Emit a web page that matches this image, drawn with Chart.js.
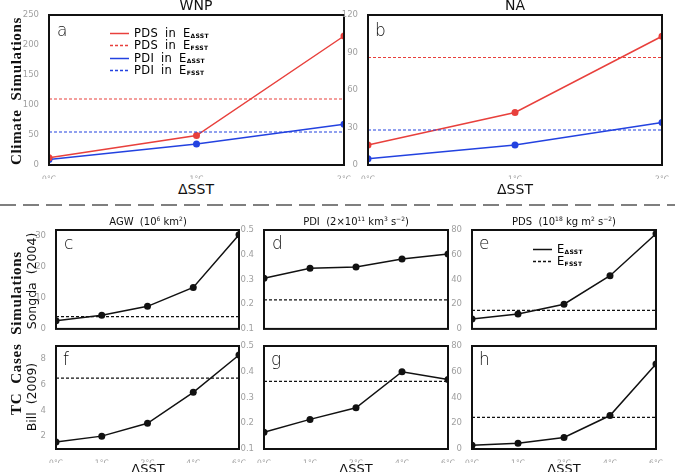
<!DOCTYPE html>
<html>
<head>
<meta charset="utf-8">
<script src="https://cdn.jsdelivr.net/npm/chart.js@4"></script>
<style>
  body { margin: 0; background: #fff; }
  #fig { position: relative; width: 675px; height: 472px; overflow: hidden; font-family: "DejaVu Sans", sans-serif; }
  canvas { position: absolute; }
  .lbl { position: absolute; white-space: nowrap; color: #111; }
  .ctr { transform: translate(-50%, -50%); }
  .rot { transform: translate(-50%, -50%) rotate(-90deg); }
  .serif { font-family: "Liberation Serif", serif; font-weight: bold; letter-spacing: 0.7px; }
  .letter { position: absolute; font-size: 17px; color: #111; font-weight: 300; }
  .leg { position: absolute; font-size: 11.5px; line-height: 12px; }
  .leg div { position: relative; height: 12.3px; white-space: nowrap; }
  .leg svg { position: absolute; left: 0; top: 5px; }
  .leg span.tx { position: absolute; left: 24px; top: 0; word-spacing: 3px; letter-spacing: 0.3px; }
  sub { font-size: 6px; font-weight: bold; vertical-align: -1px; }
  sup { font-size: 6px; vertical-align: 4px; }
</style>
</head>
<body>
<div id="fig">
  <svg style="position:absolute;left:0;top:0" width="675" height="472">
    <line x1="0" y1="205" x2="675" y2="205" stroke="#555" stroke-width="1.5" stroke-dasharray="16,7"/>
  </svg>
</div>
<script>
// ======================
// Data
// ======================
const topCats = ['0°C', '1°C', '2°C'];
const wnpPdsDsst = [12, 49, 215];
const wnpPdsFsst = 110;
const wnpPdiDsst = [9, 35, 68];
const wnpPdiFsst = 55;
const naPdsDsst = [16, 42, 103];
const naPdsFsst = 86;
const naPdiDsst = [5, 16, 34];
const naPdiFsst = 28;

const tcCats = ['0°C', '1°C', '2°C', '4°C', '6°C'];
const songdaAgw = [2.6, 4.4, 7.3, 13.4, 30.5];
const songdaAgwFsst = 4.0;
const songdaPdi = [0.305, 0.345, 0.35, 0.383, 0.403];
const songdaPdiFsst = 0.217;
const songdaPds = [8, 12, 20, 43, 77];
const songdaPdsFsst = 15;
const billAgw = [1.55, 2.0, 3.0, 5.4, 8.3];
const billAgwFsst = 6.5;
const billPdi = [0.165, 0.215, 0.26, 0.40, 0.37];
const billPdiFsst = 0.363;
const billPds = [3, 4.5, 9, 26, 66];
const billPdsFsst = 24.5;

// tick labels
const wnpTicks = [0, 50, 100, 150, 200, 250];
const naTicks = [0, 30, 60, 90, 120];
const songdaAgwTicks = [0, 10, 20, 30];
const billAgwTicks = [2, 4, 6, 8];
const pdiTicks = [0.1, 0.2, 0.3, 0.4, 0.5];
const pdsTicks = [0, 20, 40, 60, 80];

const RED = '#e8403c';
const BLUE = '#2342e0';
const fig = document.getElementById('fig');

// flat line for the E_FSST runs
function flat(v, n) {
    return new Array(n).fill(v);
}

const framePlugin = {
    id: 'frame',
    afterDraw(chart) {
        const a = chart.chartArea;
        const ctx = chart.ctx;
        ctx.save();
        ctx.strokeStyle = '#111';
        ctx.lineWidth = 2;
        ctx.strokeRect(a.left, a.top, a.right - a.left, a.bottom - a.top);
        ctx.restore();
    }
};

// ======================
// Panel builder
// ======================
function makePanel(rect, cats, datasets, yMin, yMax, ticks, showX) {
    const yw = 30, pt = 8, pr = 12;
    const xh = showX ? 14 : 0;
    const pb = showX ? 0 : 2;
    const w = rect.r - rect.l + yw + pr;
    const h = rect.b - rect.t + pt + xh + pb;

    const canvas = document.createElement('canvas');
    canvas.width = w;
    canvas.height = h;
    canvas.style.left = (rect.l - yw) + 'px';
    canvas.style.top = (rect.t - pt) + 'px';
    fig.appendChild(canvas);

    new Chart(canvas, {
        type: 'line',
        data: { labels: cats, datasets: datasets },
        options: {
            responsive: false,
            animation: false,
            layout: { padding: { top: pt, right: pr, left: 0, bottom: pb } },
            plugins: { legend: { display: false }, tooltip: { enabled: false } },
            scales: {
                x: {
                    offset: false,
                    grid: { display: false },
                    border: { display: false },
                    ticks: {
                        display: showX,
                        color: '#a0a0a0',
                        font: { size: 7.5, family: 'DejaVu Sans' },
                        maxRotation: 0,
                        autoSkip: false,
                        padding: 2
                    },
                    afterFit: function (s) { s.height = xh; }
                },
                y: {
                    min: yMin,
                    max: yMax,
                    grid: { display: false },
                    border: { display: false },
                    ticks: {
                        color: '#a0a0a0',
                        font: { size: 8.5, family: 'DejaVu Sans' },
                        padding: 2
                    },
                    afterBuildTicks: function (s) {
                        s.ticks = ticks.map(function (v) { return { value: v }; });
                    },
                    afterFit: function (s) { s.width = yw; }
                }
            }
        },
        plugins: [framePlugin]
    });
}

function solid(data, color, r) {
    return {
        data: data, borderColor: color, backgroundColor: color,
        borderWidth: 1.5, pointRadius: r, pointBorderWidth: 0, tension: 0, clip: 1
    };
}

function dashed(v, n, color) {
    return {
        data: flat(v, n), borderColor: color, borderWidth: 1.2,
        borderDash: [3, 2], pointRadius: 0, tension: 0, clip: 1
    };
}

// ======================
// Climate simulations (a, b)
// ======================
makePanel({ l: 49, t: 15, r: 344, b: 165 }, topCats, [
    dashed(wnpPdsFsst, 3, RED),
    dashed(wnpPdiFsst, 3, BLUE),
    solid(wnpPdsDsst, RED, 3.5),
    solid(wnpPdiDsst, BLUE, 3.5)
], 0, 250, wnpTicks, true);

makePanel({ l: 368, t: 15, r: 662, b: 165 }, topCats, [
    dashed(naPdsFsst, 3, RED),
    dashed(naPdiFsst, 3, BLUE),
    solid(naPdsDsst, RED, 3.5),
    solid(naPdiDsst, BLUE, 3.5)
], 0, 120, naTicks, true);

// ======================
// TC case simulations (c - h)
// ======================
const cols = [{ l: 56, r: 239 }, { l: 264, r: 448 }, { l: 472, r: 656 }];
const rowTop = { t: 230, b: 334 };
const rowBot = { t: 346, b: 449 };

function tcRect(c, row) {
    return { l: cols[c].l, r: cols[c].r, t: row.t, b: row.b };
}

makePanel(tcRect(0, rowTop), tcCats, [dashed(songdaAgwFsst, 5, '#111'), solid(songdaAgw, '#111', 3.5)], 0, 32, songdaAgwTicks, false);
makePanel(tcRect(1, rowTop), tcCats, [dashed(songdaPdiFsst, 5, '#111'), solid(songdaPdi, '#111', 3.5)], 0.1, 0.5, pdiTicks, false);
makePanel(tcRect(2, rowTop), tcCats, [dashed(songdaPdsFsst, 5, '#111'), solid(songdaPds, '#111', 3.5)], 0, 80, pdsTicks, false);
makePanel(tcRect(0, rowBot), tcCats, [dashed(billAgwFsst, 5, '#111'), solid(billAgw, '#111', 3.5)], 1, 9, billAgwTicks, true);
makePanel(tcRect(1, rowBot), tcCats, [dashed(billPdiFsst, 5, '#111'), solid(billPdi, '#111', 3.5)], 0.1, 0.5, pdiTicks, true);
makePanel(tcRect(2, rowBot), tcCats, [dashed(billPdsFsst, 5, '#111'), solid(billPds, '#111', 3.5)], 0, 80, pdsTicks, true);

// ======================
// Text labels
// ======================
function addLabel(html, x, y, size, cls) {
    const d = document.createElement('div');
    d.className = 'lbl ' + (cls || 'ctr');
    d.style.left = x + 'px';
    d.style.top = y + 'px';
    d.style.fontSize = size + 'px';
    d.innerHTML = html;
    fig.appendChild(d);
}

addLabel('WNP', 196, 5, 14);
addLabel('NA', 515, 5, 14);
addLabel('ΔSST', 196, 189, 14);
addLabel('ΔSST', 515, 189, 14);
addLabel('ΔSST', 148, 468, 13);
addLabel('ΔSST', 356, 468, 13);
addLabel('ΔSST', 564, 468, 13);
addLabel('AGW&nbsp;&nbsp;(10<sup>6</sup>&nbsp;km<sup>2</sup>)', 148, 221, 10);
addLabel('PDI&nbsp;&nbsp;(2×10<sup>11</sup>&nbsp;km<sup>3</sup>&nbsp;s<sup>−2</sup>)', 356, 221, 10);
addLabel('PDS&nbsp;&nbsp;(10<sup>18</sup>&nbsp;kg&nbsp;m<sup>2</sup>&nbsp;s<sup>−2</sup>)', 564, 221, 10);
addLabel('Climate&nbsp;&nbsp;Simulations', 16, 91, 15, 'rot serif');
addLabel('TC&nbsp;&nbsp;Cases&nbsp;&nbsp;Simulations', 16, 333, 15, 'rot serif');
addLabel('Songda&nbsp;&nbsp;(2004)', 31, 281, 12.5, 'rot');
addLabel('Bill&nbsp;&nbsp;(2009)', 31, 397, 12.5, 'rot');

const letters = [['a', 57, 20], ['b', 375, 20], ['c', 64, 233], ['d', 272, 233], ['e', 479, 233], ['f', 63, 349], ['g', 271, 349], ['h', 479, 349]];
letters.forEach(function (l) {
    const d = document.createElement('div');
    d.className = 'letter';
    d.style.left = l[1] + 'px';
    d.style.top = l[2] + 'px';
    d.textContent = l[0];
    fig.appendChild(d);
});

// legends
function addLegend(x, y, rows) {
    const box = document.createElement('div');
    box.className = 'leg';
    box.style.left = x + 'px';
    box.style.top = y + 'px';
    rows.forEach(function (r) {
        const row = document.createElement('div');
        const dash = r.dashed ? ' stroke-dasharray="3,2"' : '';
        row.innerHTML = '<svg width="19" height="3"><line x1="0" y1="1.5" x2="19" y2="1.5" stroke="' + r.color +
            '" stroke-width="1.5"' + dash + '/></svg>' +
            '<span class="tx">' + r.text + '</span>';
        box.appendChild(row);
    });
    fig.appendChild(box);
}

addLegend(110, 27, [
    { color: RED, dashed: false, text: 'PDS in E<sub>ΔSST</sub>' },
    { color: RED, dashed: true, text: 'PDS in E<sub>FSST</sub>' },
    { color: BLUE, dashed: false, text: 'PDI in E<sub>ΔSST</sub>' },
    { color: BLUE, dashed: true, text: 'PDI in E<sub>FSST</sub>' }
]);
addLegend(533, 243, [
    { color: '#111', dashed: false, text: 'E<sub>ΔSST</sub>' },
    { color: '#111', dashed: true, text: 'E<sub>FSST</sub>' }
]);
</script>
</body>
</html>
